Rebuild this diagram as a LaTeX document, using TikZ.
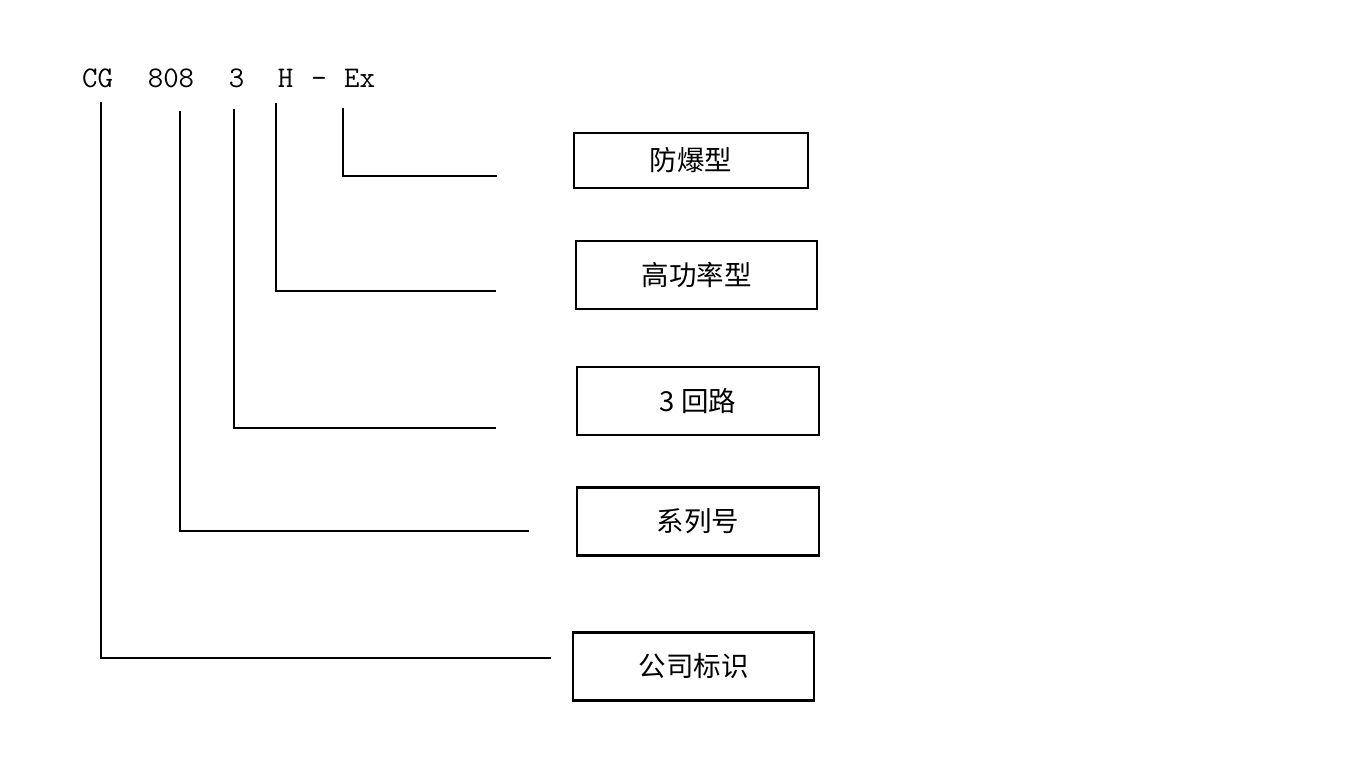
\documentclass[tikz,border=0pt]{standalone}
\usepackage{fontspec}
\newfontfamily\cjk{Noto Sans CJK SC}
\begin{document}
\begin{tikzpicture}[x=1pt,y=-1pt,
  code/.style={font=\ttfamily\fontsize{30}{30}\selectfont, anchor=base, inner sep=0pt},
  box/.style={draw, line width=2.4pt, inner sep=0pt, outer sep=0pt, font=\cjk\fontsize{27.5}{27.5}\selectfont},
  lead/.style={line width=2.2pt}]
\useasboundingbox (0,0) rectangle (1366,768);
% code tokens
\node[code] (cg) at (97.5,88) {CG};
\node[code] (n808) at (171,88) {808};
\node[code] (n3) at (236.5,88) {3};
\node[code] (h) at (285.5,88) {H};
\node[code] (dash) at (319,88) {-};
\node[code] (ex) at (359.5,88) {Ex};
% boxes
\node[box, minimum width=234pt, minimum height=55pt] (fb) at (691,160.5) {防爆型};
\node[box, minimum width=241pt, minimum height=68pt] (gg) at (696.5,275) {高功率型};
\node[box, minimum width=242pt, minimum height=68pt] (hl) at (698,401) {3 回路};
\node[box, minimum width=242pt, minimum height=68pt] (xl) at (698,521.5) {系列号};
\node[box, minimum width=241pt, minimum height=68pt] (gs) at (693.5,666.5) {公司标识};
% connector coordinates
\coordinate (cgt) at (101,102);
\coordinate (cge) at (551,658);
\coordinate (n8t) at (180,111);
\coordinate (n8e) at (529,531);
\coordinate (n3t) at (234,109);
\coordinate (n3e) at (496,428);
\coordinate (ht) at (276,103);
\coordinate (he) at (496,291);
\coordinate (ext) at (343,108);
\coordinate (exe) at (497,176);
\draw[lead] (cgt) |- (cge);
\draw[lead] (n8t) |- (n8e);
\draw[lead] (n3t) |- (n3e);
\draw[lead] (ht) |- (he);
\draw[lead] (ext) |- (exe);
\end{tikzpicture}
\end{document}
